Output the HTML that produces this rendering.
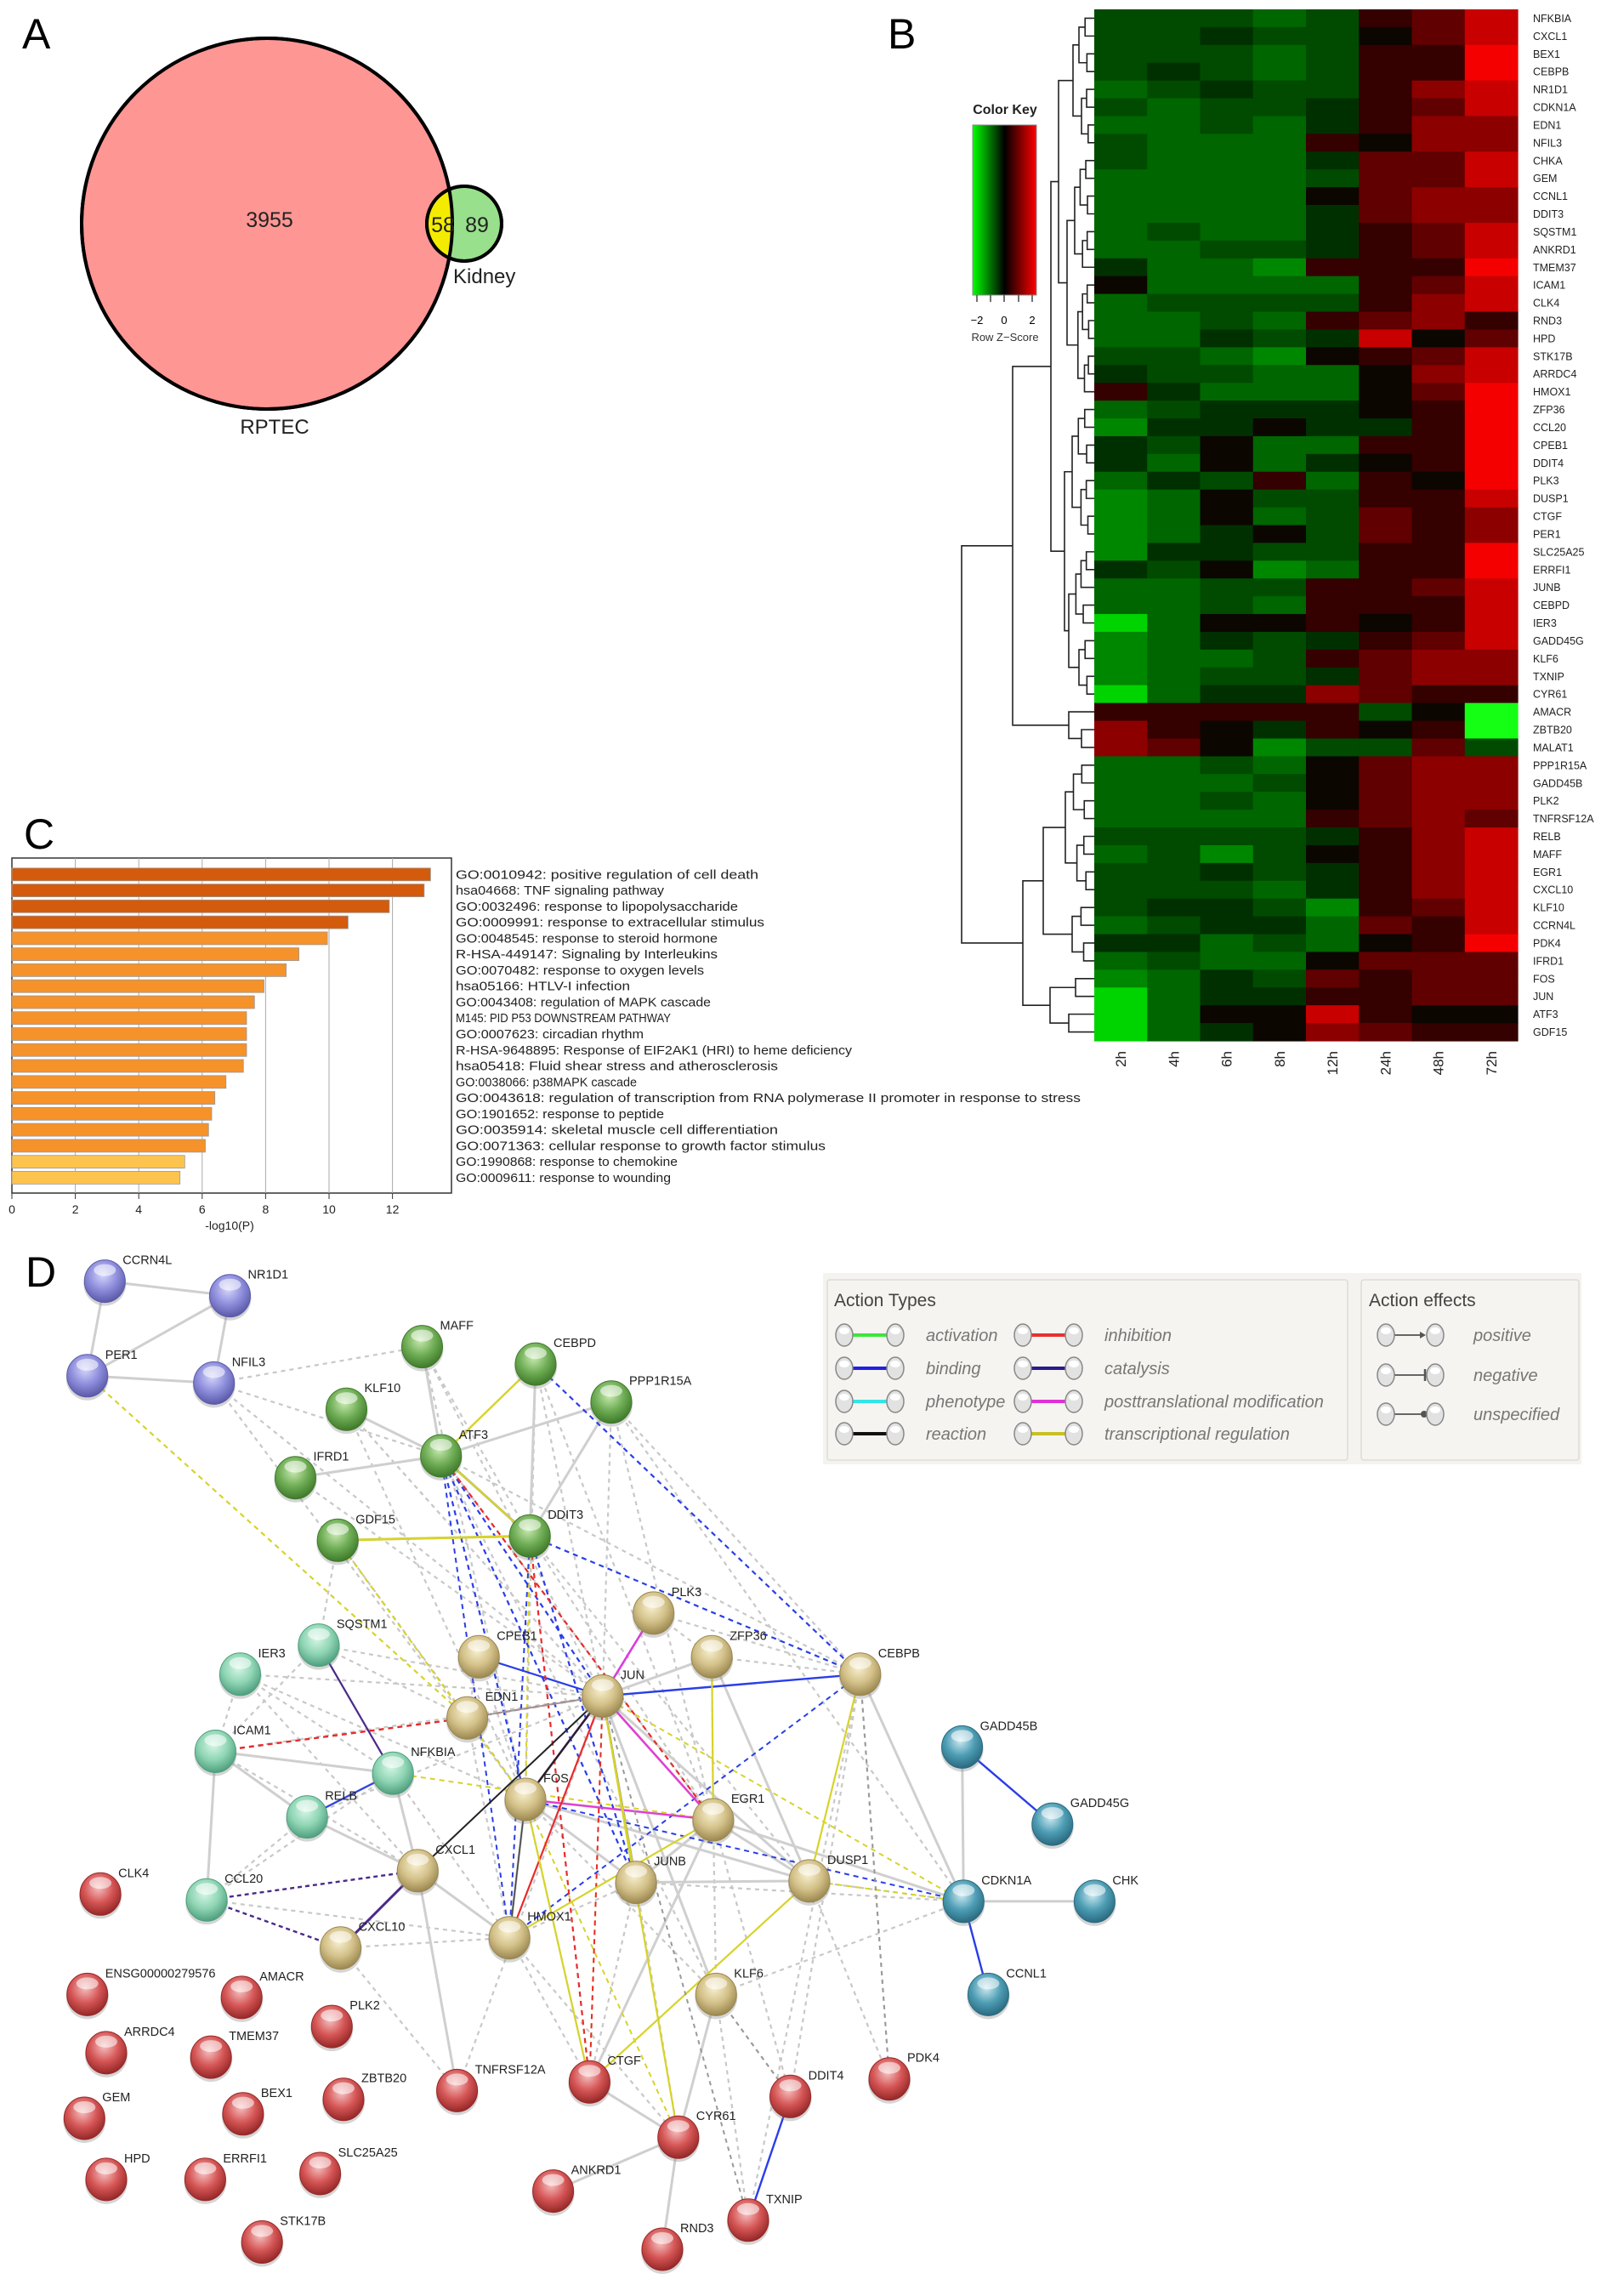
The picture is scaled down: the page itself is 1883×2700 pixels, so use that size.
<!DOCTYPE html>
<html><head><meta charset="utf-8"><style>
html,body{margin:0;padding:0;background:#fff}
svg{display:block}
text{font-family:"Liberation Sans",sans-serif}
</style></head><body>
<svg id="s" xmlns="http://www.w3.org/2000/svg" width="1883" height="2700" viewBox="0 0 1883 2700">
<defs>
<linearGradient id="ck" x1="0" x2="1" y1="0" y2="0">
<stop offset="0" stop-color="#00ff00"/><stop offset="0.5" stop-color="#000"/><stop offset="1" stop-color="#ff0000"/>
</linearGradient>
</defs>
<rect width="1883" height="2700" fill="#fff"/>
<text x="26" y="57" font-size="50">A</text>
<circle cx="314" cy="263" r="218" fill="#fe9694" stroke="#000" stroke-width="4"/>
<clipPath id="bigc"><circle cx="314" cy="263" r="218"/></clipPath>
<circle cx="546" cy="263" r="44" fill="#98e08c" stroke="#000" stroke-width="4"/>
<circle cx="546" cy="263" r="44" fill="#f4ec00" clip-path="url(#bigc)"/>
<circle cx="314" cy="263" r="218" fill="none" stroke="#000" stroke-width="4"/>
<circle cx="546" cy="263" r="44" fill="none" stroke="#000" stroke-width="4"/>
<text x="317" y="267" font-size="25" text-anchor="middle" fill="#222">3955</text>
<text x="521" y="273" font-size="25" text-anchor="middle" fill="#222">58</text>
<text x="561" y="273" font-size="25" text-anchor="middle" fill="#222">89</text>
<text x="533" y="333" font-size="24" fill="#222">Kidney</text>
<text x="323" y="510" font-size="24" text-anchor="middle" fill="#222">RPTEC</text>
<text x="1044" y="57" font-size="50">B</text>
<text x="1182" y="134" font-size="16" font-weight="bold" text-anchor="middle" fill="#222">Color Key</text>
<rect x="1144" y="147" width="75" height="200" fill="url(#ck)" stroke="#888" stroke-width="1"/>
<g stroke="#444" stroke-width="1.5">
<line x1="1149" y1="347" x2="1149" y2="355"/><line x1="1165" y1="347" x2="1165" y2="355"/><line x1="1181" y1="347" x2="1181" y2="355"/><line x1="1198" y1="347" x2="1198" y2="355"/><line x1="1214" y1="347" x2="1214" y2="355"/></g>
<text x="1149" y="381" font-size="13" text-anchor="middle">−2</text>
<text x="1181" y="381" font-size="13" text-anchor="middle">0</text>
<text x="1214" y="381" font-size="13" text-anchor="middle">2</text>
<text x="1182" y="401" font-size="13" text-anchor="middle" fill="#333">Row Z−Score</text>
<g id="heat"></g>
<g id="dend" stroke="#222" stroke-width="1.6" fill="none"></g>
<text x="28" y="998" font-size="50">C</text>
<g id="bars"></g>
<text x="30" y="1513" font-size="50">D</text>
<g id="edges" fill="none"></g>
<g id="nodes"></g>
<g id="legend"></g>
</svg>
<script>
const NS="http://www.w3.org/2000/svg";
function el(tag,attrs,parent,txt){const e=document.createElementNS(NS,tag);for(const k in attrs)e.setAttribute(k,attrs[k]);if(txt!==undefined)e.textContent=txt;parent.appendChild(e);return e;}
const genes=["NFKBIA","CXCL1","BEX1","CEBPB","NR1D1","CDKN1A","EDN1","NFIL3","CHKA","GEM","CCNL1","DDIT3","SQSTM1","ANKRD1","TMEM37","ICAM1","CLK4","RND3","HPD","STK17B","ARRDC4","HMOX1","ZFP36","CCL20","CPEB1","DDIT4","PLK3","DUSP1","CTGF","PER1","SLC25A25","ERRFI1","JUNB","CEBPD","IER3","GADD45G","KLF6","TXNIP","CYR61","AMACR","ZBTB20","MALAT1","PPP1R15A","GADD45B","PLK2","TNFRSF12A","RELB","MAFF","EGR1","CXCL10","KLF10","CCRN4L","PDK4","IFRD1","FOS","JUN","ATF3","GDF15"];
const vals=["bbbcbABD","bbabb0BD","bbbcbAAE","babcbAAE","cbabbACD","bcbbaABD","ccbcaACC","bcccA0CC","bcccaBBD","ccccbBBD","cccc0BCC","ccccaBCC","cbccaABD","ccbbaABD","accdAAAE","0ccccABD","cbbbbACD","ccbcABCA","ccabaD0B","bbcd0ABD","abbcc0CD","Aaccc0BE","cbaaa0AE","daa0aaAE","ab0ccAAE","ac0ca0AE","cabAcA0E","dc0bbAAD","dc0cbBAC","dca0bBAC","daabbAAE","ab0dcAAE","ccbbAABD","ccbcAAAD","ec00A0AD","dcabaABD","dccbABCC","dcbbaBCC","ecaaCBAA","AAAAAb0f","CA0aA0Af","CB0dbbBb","ccbc0BCC","cccb0BCC","ccbc0BCC","ccccABCB","bbbbaACD","cbdb0ACD","bbabaACD","bbbcaACD","baabdABD","cbaacBAD","aacbc0AE","cbcc0BBB","dcabBABB","ecaaAABB","ec00DA00","eca0CBAA"];
const cmap={a:"rgb(0,48,0)",b:"rgb(0,75,0)",c:"rgb(0,102,0)",d:"rgb(0,135,0)",e:"rgb(0,212,0)",f:"rgb(20,255,20)","0":"rgb(12,6,0)",A:"rgb(52,0,0)",B:"rgb(96,0,0)",C:"rgb(140,0,0)",D:"rgb(200,0,0)",E:"rgb(245,0,0)"};
const H=document.getElementById("heat");
const hx0=1287,hx1=1785,hy0=11,hy1=1224,cw=(hx1-hx0)/8,rh=(hy1-hy0)/58;
for(let i=0;i<58;i++){const v=vals[i];for(let j=0;j<8;j++){el("rect",{x:(hx0+j*cw).toFixed(2),y:(hy0+i*rh).toFixed(2),width:(cw+0.6).toFixed(2),height:(rh+0.6).toFixed(2),fill:cmap[v[j]]||"#000"},H);}
el("text",{x:1803,y:(hy0+(i+0.5)*rh+4.5).toFixed(1),"font-size":"12.5",fill:"#222"},H,genes[i]);}
const cols=["2h","4h","6h","8h","12h","24h","48h","72h"];
cols.forEach((c,j)=>{const x=hx0+(j+0.5)*cw+6;el("text",{x:x,y:1236,"font-size":"17","text-anchor":"end",transform:`rotate(-90 ${x} 1236)`,fill:"#222"},H,c);});
const D=document.getElementById("dend");
function yc(i){return hy0+(i+0.5)*rh;}
function bal(lo,hi,h){if(lo===hi)return{leaf:lo};const m=Math.floor((lo+hi)/2);const f=(hi-lo)>3?0.72:0.6;return{h:h,c:[bal(lo,m,h*f),bal(m+1,hi,h*(f-0.12))]};}
function draw(n){if(n.leaf!==undefined)return{x:hx0,y:yc(n.leaf)};const a=draw(n.c[0]),b=draw(n.c[1]);const x=hx0-n.h;
el("path",{d:`M${a.x} ${a.y}H${x}V${b.y}H${b.x}`},D);return{x:x,y:(a.y+b.y)/2};}
const tree={h:156,c:[
 {h:96,c:[
   {h:51,c:[{h:42,c:[bal(0,7,25),bal(8,21,32)]},{h:35,c:[bal(22,29,26),bal(30,38,30)]}]},
   {h:30,c:[{leaf:39},{h:15,c:[{leaf:40},{leaf:41}]}]}]},
 {h:84,c:[{h:60,c:[bal(42,49,34),bal(50,53,26)]},{h:52,c:[bal(54,55,22),bal(56,57,30)]}]}]};
draw(tree);
const B=document.getElementById("bars");
const terms=["GO:0010942: positive regulation of cell death","hsa04668: TNF signaling pathway","GO:0032496: response to lipopolysaccharide","GO:0009991: response to extracellular stimulus","GO:0048545: response to steroid hormone","R-HSA-449147: Signaling by Interleukins","GO:0070482: response to oxygen levels","hsa05166: HTLV-I infection","GO:0043408: regulation of MAPK cascade","M145: PID P53 DOWNSTREAM PATHWAY","GO:0007623: circadian rhythm","R-HSA-9648895: Response of EIF2AK1 (HRI) to heme deficiency","hsa05418: Fluid shear stress and atherosclerosis","GO:0038066: p38MAPK cascade","GO:0043618: regulation of transcription from RNA polymerase II promoter in response to stress","GO:1901652: response to peptide","GO:0035914: skeletal muscle cell differentiation","GO:0071363: cellular response to growth factor stimulus","GO:1990868: response to chemokine","GO:0009611: response to wounding"];
const bv=[13.2,13.0,11.9,10.6,9.95,9.05,8.65,7.95,7.65,7.4,7.4,7.4,7.3,6.75,6.4,6.3,6.2,6.1,5.45,5.3];
const bx0=14,su=37.3;
el("rect",{x:14,y:1009,width:517,height:394,fill:"#fff",stroke:"#333","stroke-width":1.5},B);
for(let k=2;k<=12;k+=2)el("line",{x1:bx0+k*su,y1:1009,x2:bx0+k*su,y2:1403,stroke:"#aaa","stroke-width":1},B);
bv.forEach((v,i)=>{const y=1028.3+18.77*i;const col=i<4?"#d45a0c":(i<18?"#f6922a":"#fcc44e");
el("rect",{x:bx0,y:(y-7.5).toFixed(1),width:(v*su).toFixed(1),height:15,fill:col,stroke:"#999","stroke-width":0.8},B);
el("text",{x:536,y:(y+5).toFixed(1),"font-size":"15","font-family":"Liberation Sans Narrow, Liberation Sans, sans-serif",textLength:(terms[i].length*7.9).toFixed(0),lengthAdjust:"spacingAndGlyphs",fill:"#222"},B,terms[i]);});
for(let k=0;k<=12;k+=2){const x=bx0+k*su;el("line",{x1:x,y1:1403,x2:x,y2:1410,stroke:"#333"},B);el("text",{x:x,y:1427,"font-size":"14","text-anchor":"middle",fill:"#222"},B,String(k));}
el("text",{x:270,y:1446,"font-size":"14","text-anchor":"middle",fill:"#222"},B,"-log10(P)");
const S=1.712;
const nodes={CCRN4L:[72,880,"p"],NR1D1:[158,890,"p"],PER1:[60,945,"p"],NFIL3:[147,950,"p"],
MAFF:[290,925,"g"],CEBPD:[368,937,"g"],PPP1R15A:[420,963,"g"],KLF10:[238,968,"g"],ATF3:[303,1000,"g"],IFRD1:[203,1015,"g"],DDIT3:[364,1055,"g"],GDF15:[232,1058,"g"],
SQSTM1:[219,1130,"m"],IER3:[165,1150,"m"],ICAM1:[148,1203,"m"],NFKBIA:[270,1218,"m"],RELB:[211,1248,"m"],CCL20:[142,1305,"m"],
CPEB1:[329,1138,"t"],PLK3:[449,1108,"t"],ZFP36:[489,1138,"t"],JUN:[414,1165,"t"],CEBPB:[591,1150,"t"],EDN1:[321,1180,"t"],FOS:[361,1236,"t"],EGR1:[490,1250,"t"],CXCL1:[287,1285,"t"],JUNB:[437,1293,"t"],DUSP1:[556,1292,"t"],CXCL10:[234,1338,"t"],HMOX1:[350,1331,"t"],KLF6:[492,1370,"t"],
GADD45B:[661,1200,"b"],GADD45G:[723,1253,"b"],CDKN1A:[662,1306,"b"],CHK:[752,1306,"b"],CCNL1:[679,1370,"b"],
CLK4:[69,1301,"r"],ENSG00000279576:[60,1370,"r"],AMACR:[166,1372,"r"],PLK2:[228,1392,"r"],TMEM37:[145,1413,"r"],ARRDC4:[73,1410,"r"],TNFRSF12A:[314,1436,"r"],CTGF:[405,1430,"r"],DDIT4:[543,1440,"r"],PDK4:[611,1428,"r"],GEM:[58,1455,"r"],BEX1:[167,1452,"r"],ZBTB20:[236,1442,"r"],CYR61:[466,1468,"r"],ERRFI1:[141,1497,"r"],HPD:[73,1497,"r"],SLC25A25:[220,1493,"r"],ANKRD1:[380,1505,"r"],TXNIP:[514,1525,"r"],STK17B:[180,1540,"r"],RND3:[455,1545,"r"]};
const ncol={p:["#d6d6fb","#8d8ddc","#5a5aa8"],g:["#c8eab0","#6fad55","#3f7a2a"],m:["#d6f6e6","#8fd5b4","#4f9f7e"],t:["#f8f0d0","#d3c189","#9a8850"],b:["#cdeaf2","#4d9db4","#2a6a80"],r:["#f6c0c0","#d55555","#962828"]};
const svg=document.getElementById("s");const defs=svg.querySelector("defs");
for(const k in ncol){const g=el("radialGradient",{id:"n"+k,cx:"0.45",cy:"0.35",r:"0.65"},defs);el("stop",{offset:"0","stop-color":ncol[k][0]},g);el("stop",{offset:"0.55","stop-color":ncol[k][1]},g);el("stop",{offset:"1","stop-color":ncol[k][2]},g);}
function P(n){const a=nodes[n];return[a[0]*S,a[1]*S];}
const E=document.getElementById("edges");
function edge(a,b,col,w,dash){const p=P(a),q=P(b);const at={x1:p[0].toFixed(1),y1:p[1].toFixed(1),x2:q[0].toFixed(1),y2:q[1].toFixed(1),stroke:col,"stroke-width":w};if(dash)at["stroke-dasharray"]=dash;el("line",at,E);}
const gs=[["CCRN4L","NR1D1"],["CCRN4L","PER1"],["NR1D1","PER1"],["NR1D1","NFIL3"],["PER1","NFIL3"],["MAFF","ATF3"],["KLF10","ATF3"],["IFRD1","ATF3"],["PPP1R15A","ATF3"],["CEBPD","DDIT3"],["PPP1R15A","DDIT3"],["ATF3","DDIT3"],["ICAM1","NFKBIA"],["RELB","NFKBIA"],["ICAM1","CCL20"],["JUN","FOS"],["JUN","EGR1"],["FOS","EGR1"],["FOS","JUNB"],["EGR1","JUNB"],["FOS","DUSP1"],["DUSP1","EGR1"],["JUN","ZFP36"],["ZFP36","DUSP1"],["JUN","DUSP1"],["CEBPB","CDKN1A"],["CDKN1A","GADD45B"],["CDKN1A","CHK"],["FOS","HMOX1"],["CXCL1","HMOX1"],["NFKBIA","CXCL1"],["RELB","CXCL1"],["CTGF","CYR61"],["CYR61","KLF6"],["CYR61","RND3"],["CYR61","ANKRD1"],["KLF6","JUN"],["EGR1","CTGF"],["TNFRSF12A","CXCL1"],["ICAM1","RELB"],["EGR1","CDKN1A"],["JUNB","EGR1"],["DUSP1","JUNB"],["GDF15","DDIT3"]];
const gd=[["NFIL3","MAFF"],["NFIL3","ATF3"],["NFIL3","JUN"],["NFIL3","FOS"],["CEBPD","JUN"],["CEBPD","FOS"],["PPP1R15A","JUN"],["PPP1R15A","EGR1"],["PPP1R15A","CDKN1A"],["MAFF","FOS"],["MAFF","JUN"],["IER3","JUN"],["IER3","NFKBIA"],["IER3","ICAM1"],["IER3","FOS"],["SQSTM1","JUN"],["SQSTM1","EDN1"],["ICAM1","JUN"],["CCL20","HMOX1"],["CXCL10","HMOX1"],["JUNB","CDKN1A"],["DUSP1","CDKN1A"],["CEBPB","DDIT4"],["DUSP1","PDK4"],["EGR1","DDIT4"],["KLF6","CDKN1A"],["CTGF","HMOX1"],["CXCL10","TNFRSF12A"],["JUN","TNFRSF12A"],["FOS","CTGF"],["CPEB1","EDN1"],["PLK3","ZFP36"],["CEBPB","TXNIP"],["JUNB","CTGF"],["GDF15","SQSTM1"],["IFRD1","JUN"],["KLF10","FOS"],["KLF10","JUN"],["ATF3","CEBPB"],["DDIT3","EGR1"],["CEBPD","EGR1"],["MAFF","DDIT3"],["PPP1R15A","CEBPB"],["ZFP36","CEBPB"],["JUN","KLF6"],["KLF6","TXNIP"],["KLF6","DDIT4"],["CEBPB","PDK4"],["ICAM1","CXCL1"],["RELB","CCL20"],["CCL20","NFKBIA"],["NFKBIA","HMOX1"],["RELB","JUN"],["EDN1","HMOX1"],["HMOX1","JUNB"],["FOS","KLF6"],["EGR1","KLF6"],["ZFP36","EGR1"],["PLK3","CEBPB"],["ATF3","EGR1"],["IER3","CXCL1"],["SQSTM1","ICAM1"],["CPEB1","FOS"],["EDN1","FOS"],["JUNB","CYR61"],["HMOX1","CYR61"],["ATF3","KLF6"],["DDIT3","DUSP1"],["GDF15","EDN1"],["KLF10","EGR1"]];
gd.forEach(e=>edge(e[0],e[1],"#c8c8c8",2.2,"5 5"));
gs.forEach(e=>edge(e[0],e[1],"#cfcfcf",3));
const col=[
["PER1","EDN1","#d7d32a",2.2,"6 5"],["GDF15","FOS","#d7d32a",2.2,"6 5"],["NFKBIA","EGR1","#d7d32a",2,"6 5"],["DUSP1","CDKN1A","#d7d32a",2,"6 5"],["FOS","CYR61","#d7d32a",2,"6 5"],["JUN","CTGF","#d7d32a",2,"6 5"],["DDIT3","FOS","#d7d32a",2,"6 5"],["JUN","CDKN1A","#d7d32a",2,"6 5"],
["CEBPD","CEBPB","#2a3ee8",2.2,"6 5"],["DDIT3","CEBPB","#2a3ee8",2.2,"6 5"],["ATF3","FOS","#2a3ee8",2.2,"6 5"],["ATF3","JUNB","#2a3ee8",2.2,"6 5"],["ATF3","JUN","#2a3ee8",2.2,"6 5"],["DDIT3","JUNB","#2a3ee8",2.2,"6 5"],["DDIT3","HMOX1","#2a3ee8",2,"6 5"],["CEBPB","HMOX1","#2a3ee8",2,"6 5"],["FOS","CDKN1A","#2a3ee8",2,"6 5"],["ATF3","HMOX1","#2a3ee8",2,"6 5"],
["CPEB1","JUN","#2a3ee8",2.2],["JUN","CEBPB","#2a3ee8",2.4],["GADD45B","GADD45G","#2a3ee8",2.4],["CDKN1A","CCNL1","#2a3ee8",2.4],["DDIT4","TXNIP","#2a3ee8",2.4],["JUN","JUNB","#2a3ee8",2.4],["ATF3","DDIT3","#2a3ee8",2.4],["PLK3","JUN","#2a3ee8",2.4],["NFKBIA","RELB","#2a3ee8",2],["JUN","FOS","#2a3ee8",2.4],
["PLK3","JUN","#e53ad8",2.4],["JUN","FOS","#e53ad8",2.4],["JUN","EGR1","#e53ad8",2.4],["FOS","EGR1","#e53ad8",2.2],
["JUN","HMOX1","#e82a2a",2.2],["EDN1","ICAM1","#e82a2a",2.4,"6 5"],["JUN","EDN1","#e82a2a",2.2,"6 5"],["DDIT3","CTGF","#e82a2a",2.2,"6 5"],["ATF3","EGR1","#e82a2a",2.2,"6 5"],["JUN","CTGF","#e82a2a",2,"6 5"],
["CEBPD","ATF3","#d7d32a",2.4],["DDIT3","GDF15","#d7d32a",2.8],["ATF3","DDIT3","#d7d32a",2.4],["ZFP36","EGR1","#d7d32a",2.2],["CEBPB","DUSP1","#d7d32a",2.2],["FOS","CTGF","#d7d32a",2.2],["JUN","CYR61","#d7d32a",2.2],["HMOX1","EGR1","#d7d32a",2.2],["DUSP1","CTGF","#d7d32a",2.2],["JUN","JUNB","#d7d32a",2],
["SQSTM1","NFKBIA","#4a2a8a",2.2],["CCL20","CXCL1","#4a2a8a",2.4,"5 4"],["CCL20","CXCL10","#4a2a8a",2.4,"5 4"],["CXCL1","CXCL10","#4a2a8a",3],
["JUN","CXCL1","#222",2],["FOS","JUN","#222",2.2],["FOS","HMOX1","#444",1.6],
["CEBPB","PDK4","#999",2,"5 5"],["KLF6","DDIT4","#999",2,"5 5"],["JUN","TXNIP","#999",2,"5 5"],["EDN1","JUN","#999",2]];
col.forEach(e=>edge(e[0],e[1],e[2],e[3],e[4]));
const N=document.getElementById("nodes");
for(const k in nodes){const [x,y]=P(k);const t=nodes[k][2];
el("ellipse",{cx:x.toFixed(1),cy:(y+3).toFixed(1),rx:25,ry:26,fill:"#888",opacity:0.35},N);
el("ellipse",{cx:x.toFixed(1),cy:y.toFixed(1),rx:24,ry:25,fill:`url(#n${t})`,stroke:ncol[t][2],"stroke-width":1},N);
el("ellipse",{cx:x.toFixed(1),cy:(y-13).toFixed(1),rx:13,ry:7,fill:"#fff",opacity:0.55},N);
el("text",{x:(x+21).toFixed(1),y:(y-20).toFixed(1),"font-size":"14.5",fill:"#222"},N,k);}
const L=document.getElementById("legend");
el("rect",{x:968,y:1497,width:892,height:225,fill:"#f4f3ef"},L);
el("rect",{x:973,y:1505,width:612,height:212,fill:"#f5f4f0",stroke:"#dddcd6","stroke-width":1.5,rx:3},L);
el("rect",{x:1601,y:1505,width:256,height:212,fill:"#f5f4f0",stroke:"#dddcd6","stroke-width":1.5,rx:3},L);
el("text",{x:981,y:1536,"font-size":"21","font-family":"Liberation Sans Narrow, Liberation Sans, sans-serif",fill:"#444"},L,"Action Types");
el("text",{x:1610,y:1536,"font-size":"21","font-family":"Liberation Sans Narrow, Liberation Sans, sans-serif",fill:"#444"},L,"Action effects");
function ball(x,y){el("ellipse",{cx:x,cy:y,rx:10,ry:13,fill:"#e2e2e2",stroke:"#888","stroke-width":1.5},L);el("ellipse",{cx:x,cy:y-5,rx:6,ry:4,fill:"#fff"},L);}
const items=[[993,1570,"#3ce63c","activation"],[993,1609,"#2020e0","binding"],[993,1648,"#30e6e6","phenotype"],[993,1686,"#111","reaction"],[1203,1570,"#e83030","inhibition"],[1203,1609,"#2a1a8a","catalysis"],[1203,1648,"#e030d8","posttranslational modification"],[1203,1686,"#c8c020","transcriptional regulation"]];
items.forEach(it=>{const [x,y,c,t]=it;el("line",{x1:x+10,y1:y,x2:x+50,y2:y,stroke:c,"stroke-width":4},L);ball(x,y);ball(x+60,y);
el("text",{x:x+96,y:y+7,"font-size":"20","font-style":"italic","font-family":"Liberation Sans Narrow, Liberation Sans, sans-serif",fill:"#777"},L,t);});
const eff=[[1570,"positive"],[1617,"negative"],[1663,"unspecified"]];
eff.forEach((e,i)=>{const x=1630,y=e[0];el("line",{x1:x+10,y1:y,x2:x+45,y2:y,stroke:"#666","stroke-width":2},L);
if(i===0)el("path",{d:`M${x+40} ${y-4}L${x+47} ${y}L${x+40} ${y+4}Z`,fill:"#555"},L);
if(i===1)el("line",{x1:x+46,y1:y-7,x2:x+46,y2:y+7,stroke:"#555","stroke-width":2.5},L);
if(i===2)el("circle",{cx:x+45,cy:y,r:4,fill:"#555"},L);
ball(x,y);ball(x+58,y);
el("text",{x:1733,y:y+7,"font-size":"20","font-style":"italic","font-family":"Liberation Sans Narrow, Liberation Sans, sans-serif",fill:"#777"},L,e[1]);});
</script>
</body></html>
